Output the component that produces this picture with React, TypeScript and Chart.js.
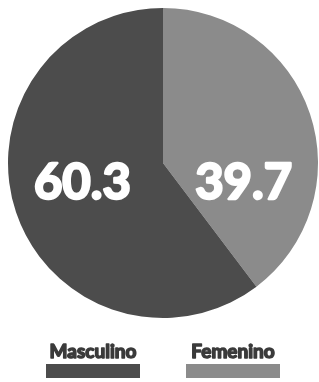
import React, { useEffect, useRef } from "react";
import { Chart, registerables } from "chart.js";

Chart.register(...registerables);

const categories = ["Femenino", "Masculino"];
const values = [39.7, 60.3];
const sliceColors = ["#8b8b8b", "#4c4c4c"];
const legendOrder = ["Masculino", "Femenino"];

const FONT = "Lato, 'Open Sans', sans-serif";

const valueLabels = {
  id: "valueLabels",
  afterDatasetsDraw(chart: any) {
    const ctx = chart.ctx;
    const meta = chart.getDatasetMeta(0);
    ctx.save();
    ctx.fillStyle = "#ffffff";
    ctx.strokeStyle = "#ffffff";
    ctx.lineWidth = 2.5;
    ctx.lineJoin = "round";
    ctx.font = `bold 49px ${FONT}`;
    ctx.textAlign = "center";
    ctx.textBaseline = "middle";
    meta.data.forEach((arc: any, i: number) => {
      const { x, y, startAngle, endAngle, outerRadius } = arc.getProps(
        ["x", "y", "startAngle", "endAngle", "outerRadius"],
        true
      );
      const mid = (startAngle + endAngle) / 2;
      const side = Math.cos(mid) >= 0 ? 1 : -1;
      const lx = x + side * outerRadius * 0.52;
      const ly = y + outerRadius * 0.13;
      const t = String(chart.data.datasets[0].data[i]);
      ctx.strokeText(t, lx, ly);
      ctx.fillText(t, lx, ly);
    });
    ctx.restore();
  },
};

const bottomLegend = {
  id: "bottomLegend",
  afterDraw(chart: any) {
    const ctx = chart.ctx;
    const labels: string[] = chart.data.labels;
    const colors: string[] = chart.data.datasets[0].backgroundColor;
    const area = chart.chartArea;
    const cx = (area.left + area.right) / 2;
    const itemW = 94;
    const gap = 46;
    const total = legendOrder.length * itemW + (legendOrder.length - 1) * gap;
    let x0 = cx - total / 2;
    ctx.save();
    legendOrder.forEach((name) => {
      const idx = labels.indexOf(name);
      ctx.fillStyle = "#3a3a3a";
      ctx.strokeStyle = "#3a3a3a";
      ctx.lineWidth = 1.5;
      ctx.lineJoin = "round";
      ctx.font = `bold 19px ${FONT}`;
      ctx.textAlign = "center";
      ctx.textBaseline = "alphabetic";
      ctx.strokeText(name, x0 + itemW / 2, 358);
      ctx.fillText(name, x0 + itemW / 2, 358);
      ctx.fillStyle = colors[idx];
      ctx.fillRect(x0, 364, itemW, 14);
      x0 += itemW + gap;
    });
    ctx.restore();
  },
};

export default function App() {
  const ref = useRef<HTMLCanvasElement | null>(null);
  useEffect(() => {
    document.body.style.margin = "0";
    const chart = new Chart(ref.current!, {
      type: "pie",
      data: {
        labels: categories,
        datasets: [
          {
            data: values,
            backgroundColor: sliceColors,
            borderWidth: 0,
          },
        ],
      },
      options: {
        animation: false,
        responsive: false,
        maintainAspectRatio: false,
        layout: { padding: { left: 8, right: 1, top: 8, bottom: 64 } },
        plugins: {
          legend: { display: false },
          tooltip: { enabled: false },
        },
      },
      plugins: [valueLabels, bottomLegend],
    });
    return () => chart.destroy();
  }, []);
  return (
    <div style={{ width: 319, height: 382, background: "#ffffff" }}>
      <canvas ref={ref} width={319} height={382} />
    </div>
  );
}
